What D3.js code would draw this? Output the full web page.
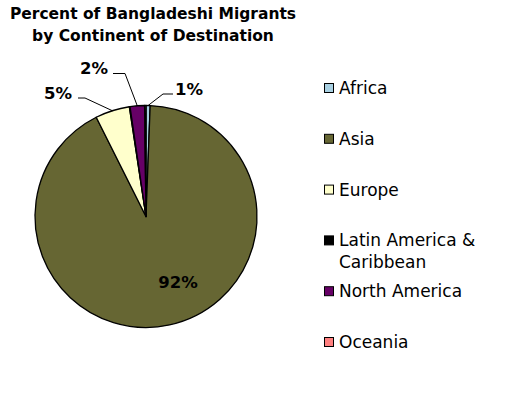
<!DOCTYPE html>
<html>
<head>
<meta charset="utf-8">
<script src="https://cdn.jsdelivr.net/npm/d3@7"></script>
<style>
  body { margin: 0; background: #fff; }
  text { font-family: "DejaVu Sans", Verdana, sans-serif; }
</style>
</head>
<body>
<div id="chart"></div>
<script>
// data
const continents = ["Africa", "Asia", "Europe", "Latin America & Caribbean", "North America", "Oceania"];
const percents = [0.6, 92.0, 5.0, 0.1, 2.1, 0.2];
const colors = ["#a8d0e2", "#666633", "#ffffcc", "#000000", "#660066", "#ff8080"];
const titleLines = ["Percent of Bangladeshi Migrants", "by Continent of Destination"];

const width = 505, height = 395;
const cx = 146, cy = 216.5, radius = 111;

const svg = d3.select("#chart")
  .append("svg")
  .attr("width", width)
  .attr("height", height);

// title
svg.append("text")
  .attr("x", 153)
  .attr("y", 19)
  .attr("text-anchor", "middle")
  .style("font-size", "15.5px")
  .style("font-weight", "bold")
  .selectAll("tspan")
  .data(titleLines)
  .enter()
  .append("tspan")
  .attr("x", 153)
  .attr("dy", (d, i) => i === 0 ? 0 : 22)
  .text(d => d);

// pie, starting at 12 o'clock and going clockwise
const data = continents.map((c, i) => ({ name: c, value: percents[i], color: colors[i] }));
const pie = d3.pie().sort(null).value(d => d.value);
const arcs = pie(data);
const arc = d3.arc().innerRadius(0).outerRadius(radius);

const g = svg.append("g").attr("transform", `translate(${cx},${cy})`);

g.selectAll("path")
  .data(arcs)
  .enter()
  .append("path")
  .attr("d", arc)
  .attr("fill", d => d.data.color)
  .attr("stroke", "#000")
  .attr("stroke-width", 1.3)
  .attr("stroke-linejoin", "round");

// labels; slices below half a percent get none
const fmt = v => Math.round(v) + "%";
const mid = d => (d.startAngle + d.endAngle) / 2;
const onEdge = (a, r) => [Math.sin(a) * r, -Math.cos(a) * r];

// label positions (offsets from pie centre), by slice name
const labelSpots = {
  "Africa": { bend: [17, -122.5], end: [27, -122.5], text: [29, -127.5], anchor: "start" },
  "Asia": { text: [32, 66], anchor: "middle" },
  "North America": { bend: [-21, -143], end: [-33, -143], text: [-38, -148.5], anchor: "end" },
  "Europe": { bend: [-61, -118.5], end: [-68, -118.5], text: [-74, -123.5], anchor: "end" }
};

arcs.filter(d => d.data.value >= 0.5).forEach(d => {
  const spot = labelSpots[d.data.name];
  if (spot.bend) {
    const p0 = onEdge(mid(d), radius);
    g.append("polyline")
      .attr("points", [p0, spot.bend, spot.end].map(p => p.join(",")).join(" "))
      .attr("fill", "none")
      .attr("stroke", "#000")
      .attr("stroke-width", 1);
  }
  g.append("text")
    .attr("x", spot.text[0])
    .attr("y", spot.text[1])
    .attr("dy", "0.35em")
    .attr("text-anchor", spot.anchor)
    .style("font-size", "16.5px")
    .style("font-weight", "bold")
    .text(fmt(d.data.value));
});

// legend
const legendY = d3.scalePoint()
  .domain(continents)
  .range([88, 342]);

const rows = svg.append("g")
  .selectAll("g")
  .data(data)
  .enter()
  .append("g")
  .attr("transform", d => `translate(324,${legendY(d.name)})`);

rows.append("rect")
  .attr("x", 0.5)
  .attr("y", -4.5)
  .attr("width", 9)
  .attr("height", 9)
  .attr("fill", d => d.color)
  .attr("stroke", "#000")
  .attr("stroke-width", 1);

rows.each(function(d) {
  const lines = d.name === "Latin America & Caribbean" ? ["Latin America &", "Caribbean"] : [d.name];
  const t = d3.select(this).append("text")
    .attr("x", 15)
    .attr("y", 0)
    .style("font-size", "17px");
  lines.forEach((l, i) => {
    t.append("tspan")
      .attr("x", 15)
      .attr("dy", i === 0 ? "0.35em" : 22)
      .text(l);
  });
});
</script>
</body>
</html>
